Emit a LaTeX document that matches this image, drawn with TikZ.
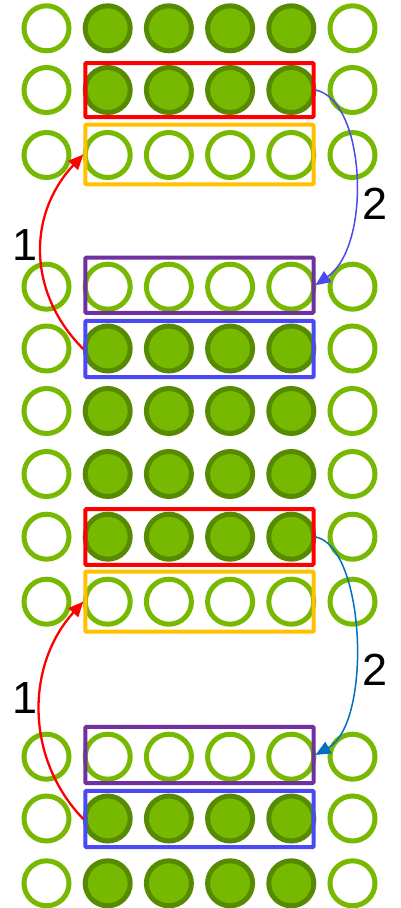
\documentclass[tikz,border=0pt]{standalone}
\usepackage{fontspec}
\setmainfont{Liberation Sans}
\usetikzlibrary{arrows.meta}
\definecolor{ngreen}{HTML}{76B900}
\definecolor{ndark}{HTML}{568A00}
\definecolor{bred}{HTML}{FF0000}
\definecolor{borange}{HTML}{FFC000}
\definecolor{bpurple}{HTML}{7030A0}
\definecolor{bblue}{HTML}{4A4AF5}
\definecolor{ablue}{HTML}{4A4AF0}
\definecolor{adblue}{HTML}{0070C0}
\tikzset{
  s0/.style={circle, draw=ngreen, fill=white, line width=5pt, minimum size=45pt, inner sep=0pt},
  s1/.style={circle, draw=ndark, fill=ngreen, line width=5pt, minimum size=45pt, inner sep=0pt},
  rowbox/.style={rectangle, draw=#1, line width=4pt, minimum width=228.2pt, inner sep=0pt, rounded corners=1pt},
  arr/.style={draw=#1, -{Triangle[length=15pt,width=13pt]}},
  redarr/.style={arr=#1, line width=2.3pt},
  bluearr/.style={arr=#1, line width=1.5pt},
  lbl/.style={font=\fontsize{45}{50}\selectfont, inner sep=0pt}
}
\begin{document}
\begin{tikzpicture}[x=1pt, y={(0pt,-1pt)}]
\useasboundingbox (0,0) rectangle (400,908);
% circles
\foreach \r/\y/\f in {1/28.3/1, 2/90/1, 3/155/0, 4/286.7/0, 5/348.5/1, 6/411/1, 7/474/1, 8/536.7/1, 9/601.7/0, 10/756.7/0, 11/818.5/1, 12/883.3/1}{
  \node[s0] (c-\r-1) at (46.5,\y) {};
  \node[s0] (c-\r-6) at (352.5,\y) {};
  \foreach \c/\x in {2/107.7, 3/168.9, 4/230.1, 5/291.3}{
    \node[s\f] (c-\r-\c) at (\x,\y) {};
  }
}
% boxes
\node[rowbox=bred, minimum height=54pt] (red1) at (199.4,90) {};
\node[rowbox=borange, minimum height=59.6pt] (orange1) at (199.4,154.5) {};
\node[rowbox=bpurple, minimum height=55.3pt] (purple1) at (199.4,285.2) {};
\node[rowbox=bblue, minimum height=56.4pt] (blue1) at (199.4,349) {};
\node[rowbox=bred, minimum height=55.7pt] (red2) at (199.4,536.9) {};
\node[rowbox=borange, minimum height=60.2pt] (orange2) at (199.4,601.6) {};
\node[rowbox=bpurple, minimum height=56.2pt] (purple2) at (199.4,754.9) {};
\node[rowbox=bblue, minimum height=56.4pt] (blue2) at (199.4,819) {};
% arrows
\draw[redarr=bred] (blue1.west) .. controls +(-56,-56) and +(-56,60) .. (orange1.west);
\draw[bluearr=ablue] (red1.east) .. controls +(50,10) and +(57,-40) .. (purple1.east);
\draw[redarr=bred] (blue2.west) .. controls +(-58,-60) and +(-58,64) .. (orange2.west);
\draw[bluearr=adblue] (red2.east) .. controls +(50,10) and +(57,-32) .. (purple2.east);
% labels
\node[lbl] (l1a) at (25,245) {1};
\node[lbl] (l2a) at (375,204) {2};
\node[lbl] (l1b) at (25,698) {1};
\node[lbl] (l2b) at (375,670) {2};
\end{tikzpicture}
\end{document}
